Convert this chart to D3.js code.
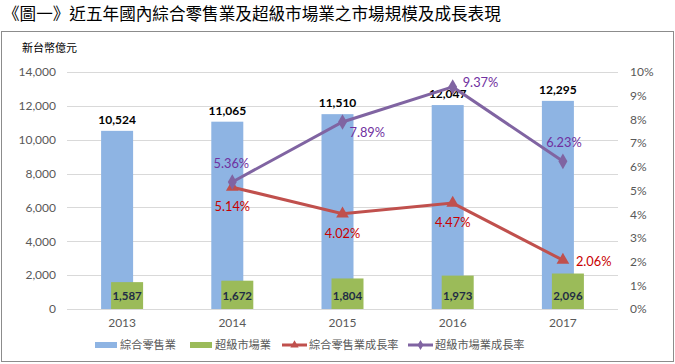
<!DOCTYPE html>
<html>
<head>
<meta charset="utf-8">
<script src="https://cdn.jsdelivr.net/npm/d3@7"></script>
<style>
  body { margin: 0; background: #fff; }
  text { font-family: Lato, "Noto Sans CJK TC", sans-serif; }
  .cjk { font-family: "Noto Sans CJK TC", sans-serif; }
</style>
</head>
<body>
<div id="chart"></div>
<script>
var years = ["2013", "2014", "2015", "2016", "2017"];
var retailValues = [10524, 11065, 11510, 12047, 12295];
var superValues = [1587, 1672, 1804, 1973, 2096];
var retailGrowth = [null, 5.14, 4.02, 4.47, 2.06];
var superGrowth = [null, 5.36, 7.89, 9.37, 6.23];
var leftTicks = [0, 2000, 4000, 6000, 8000, 10000, 12000, 14000];
var rightTicks = [0, 1, 2, 3, 4, 5, 6, 7, 8, 9, 10];
var seriesNames = ["綜合零售業", "超級市場業", "綜合零售業成長率", "超級市場業成長率"];

var chart = { width: 675, height: 364, top: 72, bottom: 309, left: 67, right: 618 };
var colors = { retail: "#8EB4E3", superm: "#9BBB59", retailLine: "#C0504D", superLine: "#8064A2" };

var svg = d3.select("#chart").append("svg")
  .attr("width", chart.width)
  .attr("height", chart.height);

/* title and frame */
svg.append("text")
  .attr("class", "cjk")
  .attr("x", 3).attr("y", 20)
  .style("font-size", "16.6px")
  .style("fill", "#000")
  .text("《圖一》近五年國內綜合零售業及超級市場業之市場規模及成長表現");

svg.append("rect")
  .attr("x", 1.5).attr("y", 31.5)
  .attr("width", 672).attr("height", 330)
  .style("fill", "none").style("stroke", "#8c8c8c");

svg.append("text")
  .attr("class", "cjk")
  .attr("x", 22).attr("y", 52)
  .style("font-size", "11px")
  .style("fill", "#000")
  .text("新台幣億元");

/* scales */
var x = d3.scaleBand().domain(years).range([chart.left, chart.right]);
var yLeft = d3.scaleLinear().domain([0, 14000]).range([chart.bottom, chart.top]);
var yRight = d3.scaleLinear().domain([0, 10]).range([chart.bottom, chart.top]);

/* gridlines */
svg.append("g")
  .selectAll("line")
  .data(leftTicks)
  .enter()
  .append("line")
  .attr("x1", chart.left).attr("x2", chart.right)
  .attr("y1", (d) => Math.round(yLeft(d)) + 0.5)
  .attr("y2", (d) => Math.round(yLeft(d)) + 0.5)
  .style("stroke", "#d9d9d9");

/* axes */
var leftAxis = svg.append("g")
  .attr("transform", "translate(" + (chart.left - 11) + ",0)")
  .call(d3.axisLeft(yLeft).tickValues(leftTicks).tickSize(0).tickFormat(d3.format(",")));
var rightAxis = svg.append("g")
  .attr("transform", "translate(" + (chart.right + 12) + ",0)")
  .call(d3.axisRight(yRight).tickValues(rightTicks).tickSize(0).tickFormat((d) => d + "%"));
var bottomAxis = svg.append("g")
  .attr("transform", "translate(0," + (chart.bottom + 6) + ")")
  .call(d3.axisBottom(x).tickSize(0));

[leftAxis, rightAxis, bottomAxis].forEach((a) => {
  a.select(".domain").remove();
  a.selectAll("text")
    .style("font-size", "12px")
    .style("fill", "#595959")
    .style("font-family", "Lato, sans-serif");
});
leftAxis.selectAll("text").attr("x", 0);
rightAxis.selectAll("text").attr("x", 0);

/* bars */
var barW = 32;
svg.append("g")
  .selectAll("rect")
  .data(retailValues)
  .enter()
  .append("rect")
  .attr("x", (d, i) => x(years[i]) + x.bandwidth() / 2 - 5 - barW / 2)
  .attr("y", (d) => yLeft(d))
  .attr("width", barW)
  .attr("height", (d) => yLeft(0) - yLeft(d))
  .style("fill", colors.retail);

svg.append("g")
  .selectAll("rect")
  .data(superValues)
  .enter()
  .append("rect")
  .attr("x", (d, i) => x(years[i]) + x.bandwidth() / 2 + 5 - barW / 2)
  .attr("y", (d) => yLeft(d))
  .attr("width", barW)
  .attr("height", (d) => yLeft(0) - yLeft(d))
  .style("fill", colors.superm);

/* bar labels */
svg.append("g")
  .selectAll("text")
  .data(retailValues)
  .enter()
  .append("text")
  .attr("x", (d, i) => x(years[i]) + x.bandwidth() / 2 - 5)
  .attr("y", (d) => yLeft(d) - 7)
  .attr("text-anchor", "middle")
  .style("font-size", "12px")
  .style("font-weight", "bold")
  .style("fill", "#000")
  .text((d) => d3.format(",")(d));

svg.append("g")
  .selectAll("text")
  .data(superValues)
  .enter()
  .append("text")
  .attr("x", (d, i) => x(years[i]) + x.bandwidth() / 2 + 5)
  .attr("y", chart.bottom - 9)
  .attr("text-anchor", "middle")
  .style("font-size", "11.5px")
  .style("font-weight", "bold")
  .style("fill", "#1F2D45")
  .text((d) => d3.format(",")(d));

/* growth lines */
function plotGrowth(values, color, symbol, textColor, labelPos) {
  var pts = values.map((v, i) => ({ v: v, year: years[i], i: i })).filter((p) => p.v != null);
  var cx = (p) => x(p.year) + x.bandwidth() / 2;
  svg.append("path")
    .datum(pts)
    .attr("d", d3.line().x(cx).y((p) => yRight(p.v)))
    .style("fill", "none")
    .style("stroke", color)
    .style("stroke-width", 3);
  svg.append("g")
    .selectAll("path")
    .data(pts)
    .enter()
    .append("path")
    .attr("transform", (p) => "translate(" + cx(p) + "," + yRight(p.v) + ")")
    .attr("d", d3.symbol().type(symbol).size(70))
    .style("fill", color);
  svg.append("g")
    .selectAll("text")
    .data(pts)
    .enter()
    .append("text")
    .attr("x", (p) => cx(p) + labelPos[p.i][0])
    .attr("y", (p) => yRight(p.v) + labelPos[p.i][1])
    .attr("text-anchor", (p) => labelPos[p.i][2])
    .style("font-size", "12.8px")
    .style("fill", textColor)
    .text((p) => p.v.toFixed(2) + "%");
}

plotGrowth(retailGrowth, colors.retailLine, d3.symbolTriangle, "#C80000",
  [null, [0, 24, "middle"], [0, 24, "middle"], [0, 24, "middle"], [13, 6, "start"]]);
plotGrowth(superGrowth, colors.superLine, d3.symbolDiamond, "#7030A0",
  [null, [-1, -14, "middle"], [7, 15, "start"], [10, 0, "start"], [1, -14, "middle"]]);

/* legend */
var legend = svg.append("g").attr("transform", "translate(0,345)");
var legendX = [95, 190, 282, 408];
legendX.forEach((lx, i) => {
  var g = legend.append("g").attr("transform", "translate(" + lx + ",0)");
  if (i < 2) {
    g.append("rect").attr("x", 0).attr("y", -3).attr("width", 22).attr("height", 6)
      .style("fill", i === 0 ? colors.retail : colors.superm);
  } else {
    var c = i === 2 ? colors.retailLine : colors.superLine;
    g.append("line").attr("x1", 0).attr("x2", 25).attr("y1", 0).attr("y2", 0)
      .style("stroke", c).style("stroke-width", 3);
    g.append("path").attr("transform", "translate(12.5,0)")
      .attr("d", d3.symbol().type(i === 2 ? d3.symbolTriangle : d3.symbolDiamond).size(30))
      .style("fill", c);
  }
  g.append("text")
    .attr("class", "cjk")
    .attr("x", i < 2 ? 25 : 27).attr("y", 4)
    .style("font-size", "11.2px")
    .style("fill", "#595959")
    .text(seriesNames[i]);
});
</script>
</body>
</html>
